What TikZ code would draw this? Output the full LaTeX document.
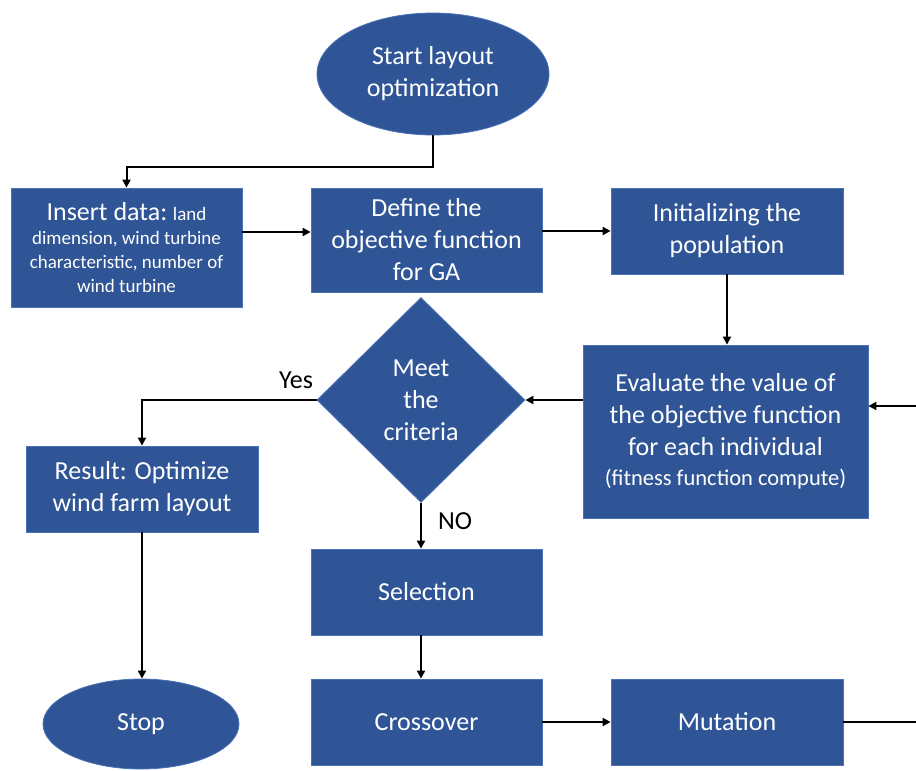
\documentclass[tikz,border=0pt]{standalone}
\usepackage{fontspec}
\setmainfont{Carlito}
\usetikzlibrary{arrows.meta,shapes.geometric}
\definecolor{GABlue}{HTML}{2F5597}
\definecolor{GAEdge}{HTML}{4A72B8}
\definecolor{Ink}{HTML}{000000}
\newcommand{\smallfs}{\fontsize{19}{24.3}\selectfont}

\begin{document}
\begin{tikzpicture}[x=1pt,y=-1pt,>={Triangle[length=8pt,width=8pt]},every node/.style={font=\fontsize{26}{32}\selectfont},
  blk/.style={draw=GAEdge,fill=GABlue,text=white,line width=.8pt,inner sep=0pt,align=center},
  oval/.style={blk,ellipse},gate/.style={blk,diamond,aspect=1},
  link/.style={->,line width=2pt},tag/.style={text=Ink,font=\fontsize{26}{30}\selectfont}]
\useasboundingbox (0,0) rectangle (916,771);
% top row
\node[oval,minimum width=232pt,minimum height=122pt] (start) at (433,74){Start layout\\optimization};
\node[blk,minimum width=231pt,minimum height=119pt,font=\smallfs] (insert) at (126.5,247.5){{\fontsize{26}{32}\selectfont Insert data:} land\\dimension, wind turbine\\characteristic, number of\\wind turbine};
\node[blk,minimum width=231pt,minimum height=104pt] (define) at (426.5,240){Define the\\objective function\\for GA};
\node[blk,minimum width=232pt,minimum height=86pt] (init) at (727,231){Initializing the\\population};
% middle row
\node[blk,minimum width=285pt,minimum height=173pt] (evaluate) at (725.5,431.5){Evaluate the value of\\the objective function\\for each individual\\[-2pt]{\fontsize{22.5}{27}\selectfont (fitness function compute)}};
\node[gate,minimum width=208pt,minimum height=205pt] (meet) at (421,400){Meet\\the\\criteria};
\node[blk,minimum width=232pt,minimum height=86pt] (result) at (142,489){Result: Optimize\\wind farm layout};
% bottom row
\node[blk,minimum width=231pt,minimum height=86pt] (select) at (426.5,592){Selection};
\node[blk,minimum width=231pt,minimum height=86pt] (cross) at (426.5,722){Crossover};
\node[blk,minimum width=232pt,minimum height=86pt] (mutate) at (727,722){Mutation};
\node[oval,minimum width=196pt,minimum height=90pt] (stop) at (141,724){Stop};
\coordinate (loopin) at (916,406); \coordinate (loopout) at (916,722);
% connectors
\draw[link] (start.south) -- ++(0,32) -| (insert.north);
\draw[link] (insert.east |- 0,232) -- (define.west |- 0,232);
\draw[link] (define.east |- init.west) -- (init.west);
\draw[link] (init.south) -- (init.south |- evaluate.north);
\draw[link] (evaluate.west |- meet.east) -- (meet.east);
\draw[link] (loopin) -- (evaluate.east |- loopin);
\draw[link] (meet.west) -| (result.north);
\draw[link] (result.south) -- (result.south |- stop.north);
\draw[link] (meet.south) -- (meet.south |- select.north);
\draw[link] (meet.south |- select.south) -- (meet.south |- cross.north);
\draw[link] (cross.east) -- (mutate.west);
\draw[line width=2pt] (mutate.east) -- (loopout);
\node[tag] (yes) at (296,380){Yes}; \node[tag] (no) at (455,521){NO};
\end{tikzpicture}
\end{document}
